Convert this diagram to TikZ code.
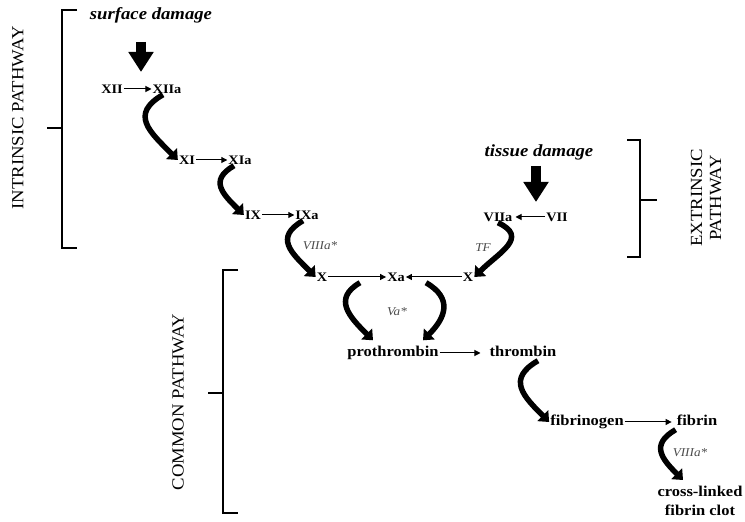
\documentclass[tikz,border=0pt]{standalone}
\usepackage{fontspec}
\setmainfont{Liberation Serif}[FakeStretch=1.1]
\usetikzlibrary{arrows.meta}

\begin{document}
\begin{tikzpicture}[x=1pt,y=1pt,
  factor/.style={font=\fontsize{13}{15}\selectfont\bfseries, inner sep=1pt, text height=9pt, text depth=0pt},
  protein/.style={font=\fontsize{15}{19}\selectfont\bfseries, inner sep=1pt, text height=10pt, text depth=3pt},
  damage/.style={font=\fontsize{17}{19}\selectfont\bfseries\itshape, inner sep=1pt},
  cofactor/.style={font=\fontsize{12}{14}\selectfont\itshape, text=black!70, inner sep=1pt},
  pathway/.style={font=\fontsize{17}{19}\selectfont, rotate=90, align=center, inner sep=0pt},
  convert/.style={line width=1pt, -{Triangle[length=6pt,width=6pt]}},
  catalyse/.style={line width=5.5pt, -{Triangle[length=9pt,width=15pt]}},
  trigger/.style={line width=10pt, -{Triangle[length=20pt,width=24pt]}},
  bracket/.style={line width=1.2pt}]
\useasboundingbox (0,0) rectangle (745,522);

% Ausloeser
\node[damage] (surf) at (151,507) {surface damage};
\node[damage] (tissue) at (539,370) {tissue damage};

% intrinsischer Weg
\node[factor] (XII)  at (112,433) {XII};
\node[factor] (XIIa) at (167,433) {XIIa};
\node[factor] (XI)   at (187,362) {XI};
\node[factor] (XIa)  at (240,362) {XIa};
\node[factor] (IX)   at (253,307) {IX};
\node[factor] (IXa)  at (307,307) {IXa};
\node[cofactor] (VIIIa1) at (320,276) {VIIIa*};

% extrinsischer Weg
\node[factor] (VIIa) at (498,305) {VIIa};
\node[factor] (VII)  at (557,305) {VII};
\node[cofactor] (TF) at (483,274) {TF};

% gemeinsamer Weg
\node[factor] (X1) at (322,245) {X};
\node[factor] (Xa) at (396,245) {Xa};
\node[factor] (X2) at (468,245) {X};
\node[cofactor] (Va) at (397,210) {Va*};
\node[protein] (prothrombin) at (393,169) {prothrombin};
\node[protein] (thrombin)    at (523,169) {thrombin};
\node[protein] (fibrinogen)  at (587,100) {fibrinogen};
\node[protein] (fibrin)      at (697,100) {fibrin};
\node[cofactor] (VIIIa2) at (690,69) {VIIIa*};
\node[protein, align=center, text height=, text depth=] (clot) at (700,21) {cross-linked\\fibrin clot};

% Umwandlungen
\draw[convert] (XII) -- (XIIa);
\draw[convert] (XI) -- (XIa);
\draw[convert] (IX) -- (IXa);
\draw[convert] (VII) -- ([xshift=2pt]VIIa.east);
\draw[convert] (X1) -- (Xa);
\draw[convert] (X2) -- (Xa);
\draw[convert] (prothrombin) -- ([xshift=-8pt]thrombin.west);
\draw[convert] (fibrinogen) -- ([xshift=-4pt]fibrin.west);

% dicke Pfeile
\coordinate (hitA) at (141,450);
\coordinate (hitB) at (536,320);
\draw[trigger] ([yshift=-18pt]surf.south -| hitA) -- (hitA);
\draw[trigger] ([yshift=-5pt]tissue.south -| hitB) -- (hitB);

% Katalyse
\draw[catalyse] ([xshift=-4pt]XIIa.south) to[out=210,in=135,looseness=1.5] (XI.west);
\draw[catalyse] ([xshift=-6pt]XIa.south) to[out=210,in=135,looseness=1.5] (IX.west);
\draw[catalyse] ([xshift=-4pt]IXa.south) to[out=210,in=135,looseness=1.5] (X1.west);
\draw[catalyse] (VIIa.south) to[out=-25,in=45,looseness=1.5] (X2.east);
\draw[catalyse] ([xshift=-36pt]Xa.south) to[out=210,in=135,looseness=1.4] ([xshift=-20pt,yshift=5pt]prothrombin.north);
\draw[catalyse] ([xshift=30pt]Xa.south) to[out=-30,in=45,looseness=1.4] ([xshift=30pt,yshift=5pt]prothrombin.north);
\draw[catalyse] ([xshift=15pt]thrombin.south) to[out=210,in=135,looseness=1.5] (fibrinogen.west);
\draw[catalyse] (fibrin.south west) to[out=210,in=135,looseness=1.5] ([xshift=-17pt,yshift=5pt]clot.north);

% Klammern
\draw[bracket] (77,512) -- (62,512) -- (62,274) -- (77,274);
\draw[bracket] (62,394) -- (47,394);
\node[pathway] (intrinsic) at (18,404) {INTRINSIC PATHWAY};
\draw[bracket] (238,252) -- (223,252) -- (223,9) -- (238,9);
\draw[bracket] (223,129) -- (208,129);
\node[pathway] (common) at (178,120) {COMMON PATHWAY};
\draw[bracket] (627,382) -- (640,382) -- (640,265) -- (627,265);
\draw[bracket] (640,322) -- (657,322);
\node[pathway] (extrinsic) at (706,324) {EXTRINSIC\\PATHWAY};
\end{tikzpicture}
\end{document}
